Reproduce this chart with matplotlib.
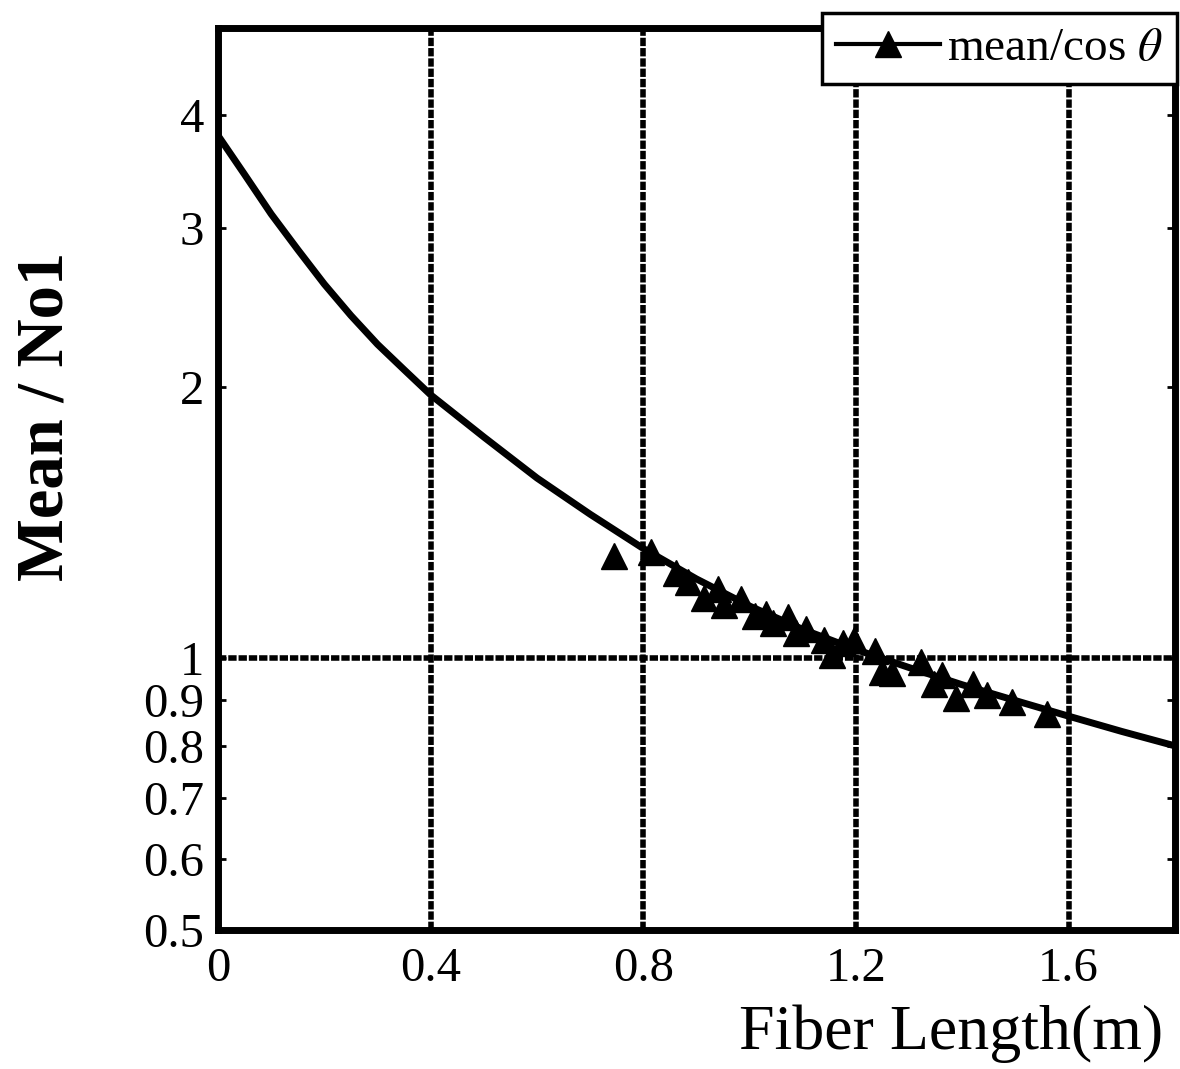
import matplotlib
matplotlib.use("Agg")
import matplotlib.pyplot as plt
from matplotlib.ticker import FixedLocator, FixedFormatter, NullLocator

# ---------------------------------------------------------------
# Datos
# ---------------------------------------------------------------
# Curva ajustada (Mean / No1 vs longitud de fibra)
curva_x = [0.0, 0.05, 0.1, 0.15, 0.2, 0.25, 0.3, 0.35, 0.4, 0.5, 0.6, 0.7, 0.8, 0.9,
           1.0, 1.1, 1.2, 1.3, 1.4, 1.5, 1.6, 1.7, 1.8]
curva_y = [3.80, 3.44, 3.11, 2.84, 2.60, 2.40, 2.23, 2.09, 1.96, 1.76, 1.585, 1.445,
           1.324, 1.225, 1.143, 1.077, 1.023, 0.977, 0.935, 0.898, 0.863, 0.830, 0.800]

# Puntos medidos (mean/cos theta)
med_x = [0.745, 0.814, 0.861, 0.884, 0.914, 0.941, 0.952, 0.984, 1.010, 1.031,
         1.044, 1.073, 1.088, 1.106, 1.140, 1.154, 1.176, 1.197, 1.235, 1.248,
         1.267, 1.323, 1.346, 1.361, 1.389, 1.421, 1.446, 1.493, 1.559]
med_y = [1.298, 1.311, 1.243, 1.215, 1.167, 1.194, 1.147, 1.164, 1.115, 1.121,
         1.095, 1.112, 1.068, 1.079, 1.047, 1.010, 1.041, 1.047, 1.020, 0.965,
         0.963, 0.990, 0.936, 0.958, 0.904, 0.936, 0.911, 0.895, 0.868]

xticks = [0, 0.4, 0.8, 1.2, 1.6]
xtick_labels = ["0", "0.4", "0.8", "1.2", "1.6"]
yticks = [0.5, 0.6, 0.7, 0.8, 0.9, 1, 2, 3, 4]
ytick_labels = ["0.5", "0.6", "0.7", "0.8", "0.9", "1", "2", "3", "4"]

# ---------------------------------------------------------------
plt.rcParams["font.family"] = ["Liberation Serif", "DejaVu Serif"]
plt.rcParams["mathtext.fontset"] = "stix"

fig = plt.figure(figsize=(11.8, 10.69), dpi=100)
ax = fig.add_axes([218 / 1180, 1 - 930 / 1069, (1175 - 218) / 1180, (930 - 28) / 1069])

ax.set_yscale("log")
ax.set_xlim(0, 1.8)
ax.set_ylim(0.5, 5)

# Curva y marcadores
ax.plot(curva_x, curva_y, color="black", lw=5, zorder=3, solid_joinstyle="round")
ax.plot(med_x, med_y, linestyle="none", marker="^", ms=19, color="black", zorder=4)

# Entrada de la leyenda (linea con triangulo)
h, = ax.plot([], [], color="black", lw=3, marker="^", ms=19,
             label=r"mean/cos $\theta$")

# Ejes
ax.xaxis.set_major_locator(FixedLocator(xticks))
ax.xaxis.set_major_formatter(FixedFormatter(xtick_labels))
ax.yaxis.set_major_locator(FixedLocator(yticks))
ax.yaxis.set_major_formatter(FixedFormatter(ytick_labels))
ax.yaxis.set_minor_locator(NullLocator())
ax.tick_params(axis="both", which="major", direction="in", length=6, width=2,
               labelsize=35, top=False, right=True)
ax.tick_params(axis="x", pad=12)
ax.tick_params(axis="y", pad=10)

for s in ax.spines.values():
    s.set_linewidth(5)
    s.set_zorder(5)

# Rejilla punteada
ax.grid(axis="x", color="black", lw=4, linestyle=(0, (1.5, 0.35)), zorder=1)
ax.axhline(1, color="black", lw=4, linestyle=(0, (1.5, 0.35)), zorder=1)

# Etiquetas
ax.set_ylabel("Mean / No1", fontsize=48, fontweight="bold")
ax.yaxis.set_label_coords(-0.148, 0.569)
fig.text(1163 / 1180, 1 - 1049 / 1069, "Fiber Length(m)", fontsize=46,
         ha="right", va="baseline")

leg = ax.legend(handles=[h], loc="upper right", fontsize=34,
                bbox_to_anchor=(1177 / 1180, 1 - 13 / 1069),
                bbox_transform=fig.transFigure, borderaxespad=0,
                fancybox=False, framealpha=1, edgecolor="black",
                handlelength=2.2, handletextpad=0.15, borderpad=0.3)
leg.get_frame().set_linewidth(2.5)
leg.set_zorder(6)

fig.savefig("out.png", dpi=100)
